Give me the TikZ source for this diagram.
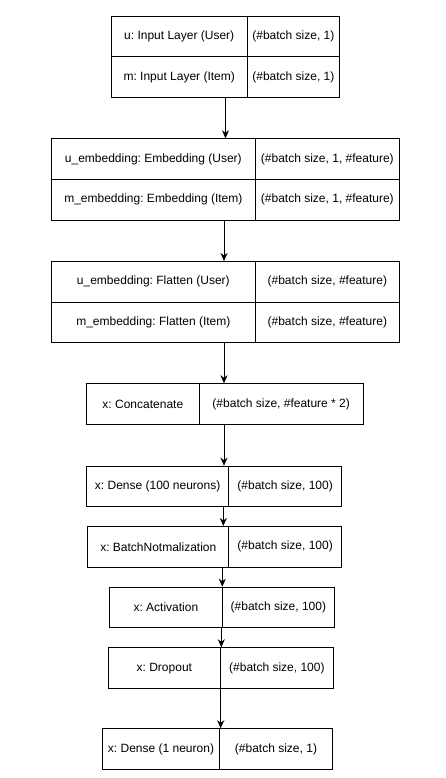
\documentclass[tikz,border=0pt]{standalone}
\usepackage{fontspec}
\setmainfont{Liberation Sans}
\frenchspacing
\usetikzlibrary{arrows.meta}
\tikzset{
  cell/.style={draw=black, line width=1pt, rectangle, inner sep=0pt, anchor=north west,
    minimum height=40.7pt, font=\fontsize{12}{14}\selectfont\frenchspacing, text=black},
  arr/.style={line width=1pt, -{Stealth[length=8pt,width=7pt,inset=2.5pt]}}
}
\begin{document}
\begin{tikzpicture}[x=1pt,y=-1pt]
\useasboundingbox (0,0) rectangle (445,778);
% Box 1
\node[cell, minimum width=136pt] (b1ul) at (110.7,15.7) {u: Input Layer (User)};
\node[cell, minimum width=92.3pt] (b1ur) at (246.7,15.7) {(\#batch size, 1)};
\node[cell, minimum width=136pt] (b1ml) at (110.7,56.4) {m: Input Layer (Item)};
\node[cell, minimum width=92.3pt] (b1mr) at (246.7,56.4) {(\#batch size, 1)};
% Box 2
\node[cell, minimum width=204.3pt] (b2ul) at (50.7,138.3) {u\_embedding: Embedding (User)};
\node[cell, minimum width=143.7pt] (b2ur) at (255,138.3) {(\#batch size, 1, \#feature)};
\node[cell, minimum width=204.3pt] (b2ml) at (50.7,179) {m\_embedding: Embedding (Item)};
\node[cell, minimum width=143.7pt] (b2mr) at (255,179) {(\#batch size, 1, \#feature)};
% Box 3
\node[cell, minimum width=204.3pt] (b3ul) at (50.7,261) {u\_embedding: Flatten (User)};
\node[cell, minimum width=143.7pt] (b3ur) at (255,261) {(\#batch size, \#feature)};
\node[cell, minimum width=204.3pt] (b3ml) at (50.7,301.7) {m\_embedding: Flatten (Item)};
\node[cell, minimum width=143.7pt] (b3mr) at (255,301.7) {(\#batch size, \#feature)};
% Box 4
\node[cell, minimum width=112.7pt] (b4l) at (86,383.3) {x: Concatenate};
\node[cell, minimum width=164pt] (b4r) at (198.7,383.3) {(\#batch size, \#feature * 2)};
% Box 5
\node[cell, minimum width=142.3pt] (b5l) at (86,465.7) {x: Dense (100 neurons)};
\node[cell, minimum width=112.7pt] (b5r) at (228.3,465.7) {(\#batch size, 100)};
% Box 6
\node[cell, minimum width=141pt] (b6l) at (87.3,526) {x: BatchNotmalization};
\node[cell, minimum width=112.7pt] (b6r) at (228.3,526) {(\#batch size, 100)};
% Box 7
\node[cell, minimum width=112.7pt] (b7l) at (109,586.7) {x: Activation};
\node[cell, minimum width=112.3pt] (b7r) at (221.7,586.7) {(\#batch size, 100)};
% Box 8
\node[cell, minimum width=112.3pt] (b8l) at (107.7,647.3) {x: Dropout};
\node[cell, minimum width=112.7pt] (b8r) at (220,647.3) {(\#batch size, 100)};
% Box 9
\node[cell, minimum width=117.6pt] (b9l) at (101.7,728.3) {x: Dense (1 neuron)};
\node[cell, minimum width=112.4pt] (b9r) at (219.3,728.3) {(\#batch size, 1)};
% Arrows
\draw[arr] (b1ml.south -| 225.5,0) -- (b2ul.north -| 225.5,0);
\draw[arr] (b2ml.south -| 224,0) -- (b3ul.north -| 224,0);
\draw[arr] (b3ml.south -| 224,0) -- (b4r.north -| 224,0);
\draw[arr] (b4r.south -| 224,0) -- (b5l.north -| 224,0);
\draw[arr] (b5l.south -| 223.3,0) -- (b6l.north -| 223.3,0);
\draw[arr] (b6l.south -| 222.3,0) -- (b7r.north -| 222.3,0);
\draw[arr] (b7r.south -| 221.3,0) -- (b8r.north -| 221.3,0);
\draw[arr] (b8r.south -| 220.7,0) -- (b9r.north -| 220.7,0);
\end{tikzpicture}
\end{document}
